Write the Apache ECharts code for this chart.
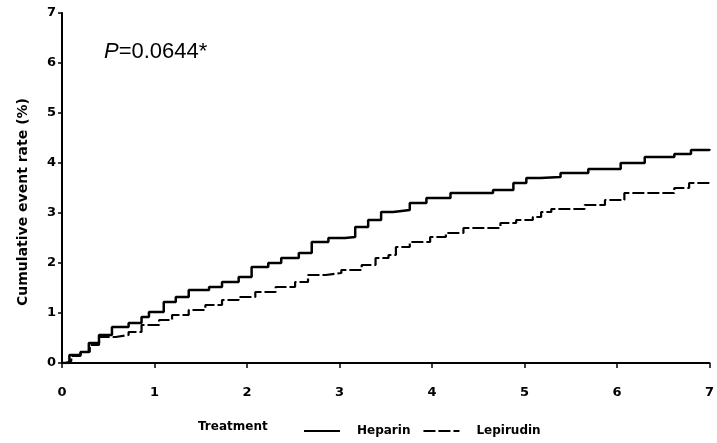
<!DOCTYPE html>
<html>
<head>
<meta charset="utf-8">
<script src="https://cdn.jsdelivr.net/npm/echarts@6/dist/echarts.min.js"></script>
<style>html,body{margin:0;padding:0;background:#fff}#c{width:717px;height:443px}</style>
</head>
<body>
<div id="c"></div>
<script>
var xTicks = [0, 1, 2, 3, 4, 5, 6, 7];
var yTicks = [0, 1, 2, 3, 4, 5, 6, 7];
var heparinX = [0, 0.08, 0.2, 0.29, 0.4, 0.54, 0.72, 0.86, 0.94, 1.10, 1.23, 1.37, 1.59, 1.73, 1.91, 2.05, 2.23, 2.37, 2.56, 2.70, 2.88, 3.06, 3.17, 3.31, 3.45, 3.58, 3.76, 3.94, 4.20, 4.66, 4.88, 5.02, 5.17, 5.39, 5.69, 6.04, 6.30, 6.62, 6.80, 7.00];
var heparinY = [0, 0.16, 0.22, 0.40, 0.56, 0.72, 0.80, 0.92, 1.02, 1.22, 1.32, 1.46, 1.52, 1.62, 1.72, 1.92, 2.00, 2.10, 2.20, 2.42, 2.50, 2.52, 2.72, 2.86, 3.02, 3.06, 3.20, 3.30, 3.40, 3.46, 3.60, 3.70, 3.72, 3.80, 3.88, 4.00, 4.12, 4.18, 4.26, 4.28];
var lepirudinX = [0, 0.04, 0.1, 0.2, 0.3, 0.4, 0.58, 0.72, 0.86, 1.05, 1.19, 1.37, 1.55, 1.73, 1.91, 2.09, 2.31, 2.52, 2.66, 2.85, 3.02, 3.24, 3.39, 3.53, 3.61, 3.76, 3.98, 4.15, 4.34, 4.55, 4.74, 4.91, 5.09, 5.18, 5.29, 5.65, 5.87, 6.08, 6.52, 6.62, 6.78, 7.00];
var lepirudinY = [0, 0.04, 0.14, 0.22, 0.36, 0.52, 0.56, 0.62, 0.76, 0.86, 0.96, 1.06, 1.16, 1.26, 1.32, 1.42, 1.52, 1.62, 1.76, 1.80, 1.86, 1.96, 2.10, 2.16, 2.32, 2.42, 2.52, 2.60, 2.70, 2.70, 2.80, 2.86, 2.92, 3.02, 3.08, 3.16, 3.26, 3.40, 3.40, 3.50, 3.60, 3.60];
var seriesNames = ['Heparin', 'Lepirudin'];
var yTitle = 'Cumulative event rate (%)';
var pText = '=0.0644*';
var legendTitle = 'Treatment';

function pairs(xs, ys) { return xs.map(function (x, i) { return [x, ys[i]]; }); }

var font = 'Liberation Sans, Arial, sans-serif';
var wfont = 'DejaVu Sans, sans-serif';
var chart = echarts.init(document.getElementById('c'));
chart.setOption({
  animation: false,
  backgroundColor: '#fff',
  grid: { left: 62, right: 5, top: 13, bottom: 80 },
  xAxis: {
    type: 'value', min: xTicks[0], max: xTicks[xTicks.length - 1], interval: 1,
    offset: 7,
    axisLine: { lineStyle: { color: '#000', width: 2 } },
    axisTick: { show: true, length: 5, lineStyle: { color: '#000', width: 1.5 } },
    axisLabel: { color: '#000', fontSize: 13, fontWeight: 'bold', fontFamily: wfont, margin: 16 },
    splitLine: { show: false }
  },
  yAxis: {
    type: 'value', min: yTicks[0], max: yTicks[yTicks.length - 1], interval: 1,
    offset: 1,
    name: yTitle, nameLocation: 'middle', nameGap: 31, nameRotate: 90,
    nameTextStyle: { color: '#000', fontSize: 14, fontWeight: 'bold', fontFamily: wfont, padding: [0, 28, 0, 0] },
    axisLine: { show: true, lineStyle: { color: '#000', width: 2 } },
    axisTick: { show: true, length: 4, lineStyle: { color: '#000', width: 1.5 } },
    axisLabel: { color: '#000', fontSize: 13, fontWeight: 'bold', fontFamily: wfont, margin: 5 },
    splitLine: { show: false }
  },
  legend: {
    data: seriesNames,
    left: 298, top: 420,
    itemWidth: 36, itemHeight: 8, itemGap: 12,
    itemStyle: { opacity: 0 },
    textStyle: { color: '#000', fontSize: 12, fontWeight: 'bold', fontFamily: wfont, padding: [0, 0, 0, 12] }
  },
  graphic: [
    { type: 'text', left: 198, top: 421, style: { text: legendTitle, fill: '#000', font: 'bold 12px ' + wfont } },
    { type: 'text', left: 104, top: 41, style: {
        text: '{i|P}' + pText,
        rich: { i: { fontStyle: 'italic', fontSize: 22, fontFamily: font, fill: '#000' } },
        fill: '#000', font: '22px ' + font } }
  ],
  series: [
    { name: seriesNames[0], type: 'line', step: 'end', showSymbol: false, symbol: 'none',
      data: pairs(heparinX, heparinY),
      lineStyle: { color: '#000', width: 2.5 }, itemStyle: { color: '#000' } },
    { name: seriesNames[1], type: 'line', step: 'end', showSymbol: false, symbol: 'none',
      data: pairs(lepirudinX, lepirudinY),
      lineStyle: { color: '#000', width: 2.2, type: [12, 3] }, itemStyle: { color: '#000' } }
  ]
});
</script>
</body>
</html>
